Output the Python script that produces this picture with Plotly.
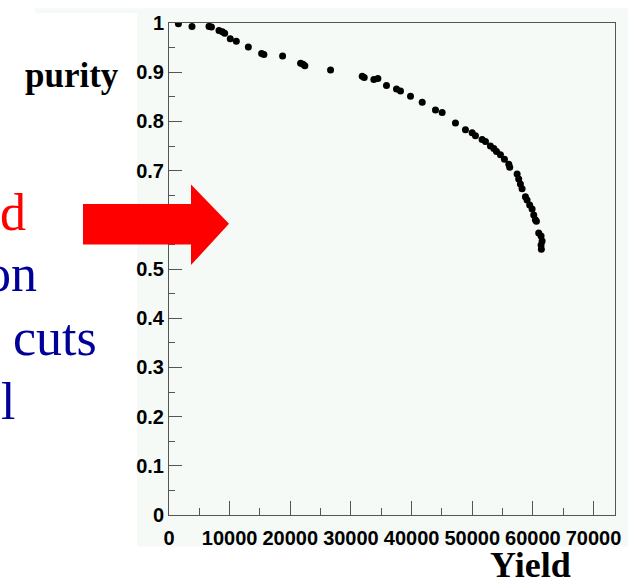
import plotly.graph_objects as go

# Yield vs. purity scan points
yield_vals = [1550, 3790, 6600, 7000, 8240, 8800, 9180, 10100, 11100, 13080,
              15270, 15650, 18730, 21700, 22100, 22400, 26640, 31860, 32190,
              33780, 34440, 35860, 37510, 38170, 39820, 41750, 43940, 45040,
              47230, 48880, 49980, 50530, 51630, 52180, 53000, 53560, 54000,
              54650, 55310, 56030, 56180, 57400, 57660, 57940, 58220, 58770,
              59040, 59470, 59870, 60140, 60410, 60580, 60960, 61350, 61520,
              61350, 61400]
purity_vals = [0.9987, 0.9927, 0.993, 0.992, 0.985, 0.982, 0.979, 0.968, 0.9627,
               0.951, 0.938, 0.936, 0.933, 0.918, 0.916, 0.913, 0.9047, 0.892,
               0.889, 0.885, 0.887, 0.873, 0.866, 0.862, 0.851, 0.839, 0.823,
               0.818, 0.797, 0.783, 0.777, 0.771, 0.763, 0.759, 0.75, 0.745,
               0.739, 0.732, 0.723, 0.713, 0.707, 0.693, 0.683, 0.673, 0.663,
               0.647, 0.64, 0.63, 0.622, 0.61, 0.60, 0.597, 0.573, 0.567,
               0.557, 0.549, 0.54]

x_tick_vals = [0, 10000, 20000, 30000, 40000, 50000, 60000, 70000]
x_tick_text = ["0", "10000", "20000", "30000", "40000", "50000", "60000", "70000"]
y_tick_vals = [0, 0.1, 0.2, 0.3, 0.4, 0.5, 0.6, 0.7, 0.8, 0.9, 1.0]
y_tick_text = ["0", "0.1", "0.2", "0.3", "0.4", "0.5", "", "0.7", "0.8", "0.9", "1"]

W, H = 636, 581
L, R, T, B = 169, 21, 15, 66
PW, PH = W - L - R, H - T - B


def px(x):
    return (x - L) / PW


def py(y):
    return (H - B - y) / PH


PANEL = "#f5faf7"
AXIS = "#555555"
tick_font = dict(family="Liberation Sans, Arial", size=20, color="black", weight="bold")

fig = go.Figure()
fig.add_trace(go.Scatter(
    x=yield_vals, y=purity_vals, mode="markers",
    marker=dict(color="black", size=7, line=dict(width=0)),
    showlegend=False, hoverinfo="skip",
))

shapes = [
    # light canvas behind the frame
    dict(type="rect", xref="paper", yref="paper", x0=px(137), x1=px(628), y0=py(0), y1=py(547),
         fillcolor=PANEL, line=dict(width=0), layer="below"),
    dict(type="rect", xref="paper", yref="paper", x0=px(35), x1=px(137), y0=py(0), y1=py(5),
         fillcolor=PANEL, line=dict(width=0), layer="below"),
]

# red block arrow
arrow_pts = [(83, 199), (191, 199), (191, 179), (229, 219), (191, 261), (191, 240), (83, 240)]
path = "M " + " L ".join(f"{px(a):.5f},{py(b):.5f}" for a, b in arrow_pts) + " Z"
shapes.append(dict(type="path", xref="paper", yref="paper", path=path,
                   fillcolor="#ff0000", line=dict(width=0), layer="above"))

serif = "Liberation Serif, Times New Roman"
annotations = [
    dict(text="purity", x=px(121), y=py(68), xanchor="right", yanchor="middle",
         font=dict(family=serif, size=35, color="black", weight="bold")),
    dict(text="Yield", x=px(530.5), y=py(566), xanchor="center", yanchor="middle",
         font=dict(family=serif, size=36, color="black", weight="bold")),
    dict(text="d", x=px(28), y=py(208), xanchor="right", yanchor="middle",
         font=dict(family=serif, size=52, color="#ff0000")),
    dict(text="on", x=px(39), y=py(270), xanchor="right", yanchor="middle",
         font=dict(family=serif, size=52, color="#000099")),
    dict(text="cuts", x=px(99), y=py(335), xanchor="right", yanchor="middle",
         font=dict(family=serif, size=52, color="#000099")),
    dict(text="l", x=px(17), y=py(400), xanchor="right", yanchor="middle",
         font=dict(family=serif, size=52, color="#000099")),
]
for a in annotations:
    a.update(xref="paper", yref="paper", showarrow=False)

fig.update_layout(
    width=W, height=H,
    margin=dict(l=L, r=R, t=T, b=B, pad=0),
    paper_bgcolor="white",
    plot_bgcolor=PANEL,
    shapes=shapes,
    annotations=annotations,
    xaxis=dict(
        range=[0, 73540], tickvals=x_tick_vals, ticktext=x_tick_text,
        ticks="inside", ticklen=14, tickcolor=AXIS, tickwidth=1,
        minor=dict(dtick=5000, tick0=0, ticks="inside", ticklen=7, tickcolor=AXIS, tickwidth=1),
        showline=True, linecolor=AXIS, linewidth=1, mirror=True,
        showgrid=False, zeroline=False, tickfont=tick_font, ticklabelstandoff=5,
    ),
    yaxis=dict(
        range=[0, 1], tickvals=y_tick_vals, ticktext=y_tick_text,
        ticks="inside", ticklen=13, tickcolor=AXIS, tickwidth=1,
        minor=dict(dtick=0.05, tick0=0, ticks="inside", ticklen=6, tickcolor=AXIS, tickwidth=1),
        showline=True, linecolor=AXIS, linewidth=1, mirror=True,
        showgrid=False, zeroline=False, tickfont=tick_font, ticklabelstandoff=0,
    ),
)

fig.write_html("out.html")
